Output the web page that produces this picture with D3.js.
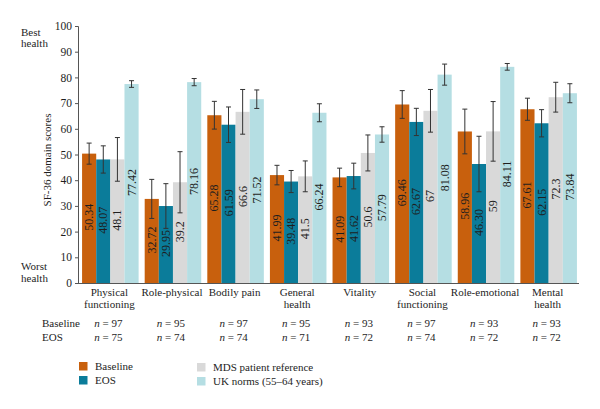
<!DOCTYPE html>
<html>
<head>
<meta charset="utf-8">
<script src="https://cdn.jsdelivr.net/npm/d3@7/dist/d3.min.js"></script>
<style>
  html, body { margin: 0; padding: 0; background: #fff; }
  svg { display: block; }
  text { font-family: "Liberation Serif", "DejaVu Serif", serif; fill: #1e1e1e; }
</style>
</head>
<body>
<svg id="chart" width="600" height="409"></svg>
<script>
// ---------- data ----------
const categories = ["Physical functioning", "Role-physical", "Bodily pain", "General health",
                    "Vitality", "Social functioning", "Role-emotional", "Mental health"];
const categoryLines = [["Physical", "functioning"], ["Role-physical"], ["Bodily pain"], ["General", "health"],
                       ["Vitality"], ["Social", "functioning"], ["Role-emotional"], ["Mental", "health"]];
const seriesNames = ["Baseline", "EOS", "MDS patient reference", "UK norms (55\u201364 years)"];
const baseline = [50.34, 32.72, 65.28, 41.99, 41.09, 69.46, 58.96, 67.61];
const eos      = [48.07, 29.95, 61.59, 39.48, 41.62, 62.67, 46.30, 62.15];
const mds      = [48.1, 39.2, 66.6, 41.5, 50.6, 67, 59, 72.3];
const ukNorms  = [77.42, 78.16, 71.52, 66.24, 57.79, 81.08, 84.11, 73.84];
// error bar half-widths
const baselineErr = [4.1, 7.6, 5.4, 3.8, 3.6, 5.4, 8.7, 4.3];
const eosErr      = [5.3, 8.7, 6.9, 4.3, 5.0, 5.3, 10.8, 5.3];
const mdsErr      = [8.5, 11.9, 8.7, 6.0, 7.0, 8.3, 11.6, 5.8];
const ukErr       = [1.3, 1.4, 3.6, 3.5, 3.0, 4.1, 1.3, 3.7];
const baselineN = [97, 95, 97, 95, 93, 97, 93, 93];
const eosN      = [75, 74, 74, 71, 72, 74, 72, 72];
const yTicks = [0, 10, 20, 30, 40, 50, 60, 70, 80, 90, 100];

const colors = ["#C8600D", "#0B7C9A", "#D9D9D9", "#B5DEE3"];
const seriesValues = [baseline, eos, mds, ukNorms];
const seriesErrs = [baselineErr, eosErr, mdsErr, ukErr];
const fmt = [v => v.toFixed(2), v => v.toFixed(2), v => String(v), v => v.toFixed(2)];

// ---------- layout ----------
const svg = d3.select("#chart");
const x0 = d3.scaleBand().domain(categories).range([78, 581]).paddingInner(0.097).paddingOuter(0.065);
const x1 = d3.scaleBand().domain(d3.range(4)).range([0, x0.bandwidth()]);
const y = d3.scaleLinear().domain([0, 100]).range([283, 26]);

const rows = [];
categories.forEach((c, i) => {
  for (let s = 0; s < 4; s++) {
    rows.push({ c, i, s, v: seriesValues[s][i], e: seriesErrs[s][i] });
  }
});

// bars
svg.append("g").selectAll("rect").data(rows).join("rect")
  .attr("x", d => x0(d.c) + x1(d.s))
  .attr("y", d => y(d.v))
  .attr("width", x1.bandwidth())
  .attr("height", d => y(0) - y(d.v))
  .attr("fill", d => colors[d.s]);

// error bars
const eg = svg.append("g").attr("stroke", "#333").attr("stroke-width", 1).attr("fill", "none");
rows.forEach(d => {
  const cx = x0(d.c) + x1(d.s) + x1.bandwidth() / 2;
  const t = y(d.v + d.e), b = y(d.v - d.e);
  eg.append("line").attr("x1", cx).attr("x2", cx).attr("y1", t).attr("y2", b);
  eg.append("line").attr("x1", cx - 2.5).attr("x2", cx + 2.5).attr("y1", t).attr("y2", t);
  eg.append("line").attr("x1", cx - 2.5).attr("x2", cx + 2.5).attr("y1", b).attr("y2", b);
});

// value labels (rotated)
svg.append("g").selectAll("text").data(rows).join("text")
  .attr("transform", d => {
    const cx = x0(d.c) + x1(d.s) + x1.bandwidth() / 2;
    return `translate(${cx},${y(d.v / 2) - 1}) rotate(-90)`;
  })
  .attr("text-anchor", "middle")
  .attr("dominant-baseline", "central")
  .style("font-size", "12px")
  .text(d => fmt[d.s](d.v));

// y axis
const yAxis = d3.axisLeft(y).tickValues(yTicks).tickSize(3).tickPadding(3);
const ya = svg.append("g").attr("transform", "translate(78,0)").call(yAxis);
ya.select(".domain").attr("stroke", "#555");
ya.selectAll(".tick line").attr("stroke", "#555");
ya.selectAll(".tick text").style("font-size", "11.5px").style("font-family", "Liberation Serif, serif").attr("fill", "#1e1e1e");

// x axis line
const xAxis = d3.axisBottom(x0).tickSize(0).tickFormat("");
const xa = svg.append("g").attr("transform", "translate(0,283)").call(xAxis);
xa.select(".domain").attr("stroke", "#555").attr("d", "M78,0.5H579");

// category labels
const cl = svg.append("g");
categories.forEach((c, i) => {
  const cx = x0(c) + x0.bandwidth() / 2 - 1;
  const t = cl.append("text").attr("x", cx).attr("y", 296).attr("text-anchor", "middle").style("font-size", "11px");
  categoryLines[i].forEach((ln, k) => {
    t.append("tspan").attr("x", cx).attr("dy", k === 0 ? 0 : 11.5).text(ln);
  });
});

// n rows
svg.append("text").attr("x", 42).attr("y", 327).style("font-size", "11px").text("Baseline");
svg.append("text").attr("x", 42).attr("y", 341).style("font-size", "11px").text("EOS");
[baselineN, eosN].forEach((arr, r) => {
  categories.forEach((c, i) => {
    const cx = x0(c) + x0.bandwidth() / 2 - 2;
    const t = svg.append("text").attr("x", cx).attr("y", 327 + r * 14).attr("text-anchor", "middle").style("font-size", "11px");
    t.append("tspan").style("font-style", "italic").text("n");
    t.append("tspan").text(" = " + arr[i]);
  });
});

// y axis annotations
svg.append("text").attr("x", 21).attr("y", 36).style("font-size", "11px").text("Best");
svg.append("text").attr("x", 21).attr("y", 47).style("font-size", "11px").text("health");
svg.append("text").attr("x", 21).attr("y", 270).style("font-size", "11px").text("Worst");
svg.append("text").attr("x", 21).attr("y", 282).style("font-size", "11px").text("health");
svg.append("text").attr("transform", "translate(51,160) rotate(-90)").attr("text-anchor", "middle")
  .style("font-size", "11px").text("SF-36 domain scores");

// legend
const legendPos = [[79, 362], [79, 376], [197, 363], [197, 377]];
seriesNames.forEach((n, s) => {
  const [lx, ly] = legendPos[s];
  svg.append("rect").attr("x", lx).attr("y", ly).attr("width", 8.5).attr("height", 8.5).attr("fill", colors[s]);
  svg.append("text").attr("x", lx + 16).attr("y", ly + 8).style("font-size", "11px").text(n);
});
</script>
</body>
</html>
